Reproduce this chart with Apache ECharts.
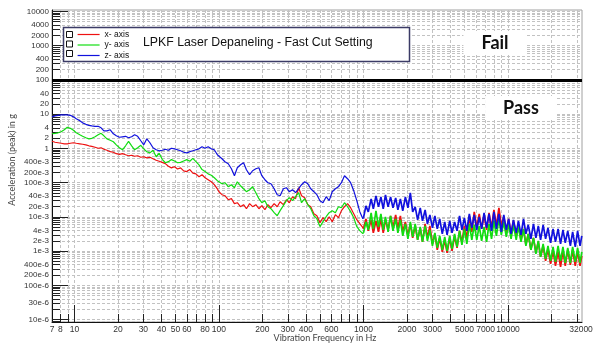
<!DOCTYPE html>
<html>
<head>
<meta charset="utf-8">
<script src="https://cdn.jsdelivr.net/npm/echarts@6/dist/echarts.min.js"></script>
<style>
  html, body { margin: 0; padding: 0; background: #fff; }
  #chart { width: 600px; height: 347px; }
</style>
</head>
<body>
<div id="chart"></div>
<script>
// Vibration spectrum of the depaneling process, acceleration (peak) per axis.
// Shared frequency grid in Hz.
const freqHz = [
  7, 7.35, 7.72, 8.1, 8.51, 8.93, 9.38, 9.85, 10.3, 10.9,
  11.4, 12.0, 12.6, 13.2, 13.9, 14.6, 15.3, 16.0, 16.8, 17.7,
  18.6, 19.5, 20.5, 21.5, 22.6, 23.7, 24.9, 26.1, 27.4, 28.8,
  30.2, 31.7, 33.3, 35.0, 36.8, 38.6, 40.5, 42.6, 44.7, 46.9,
  49.3, 51.7, 54.3, 57.0, 59.9, 62.9, 66.0, 69.3, 72.8, 76.4,
  80.2, 84.2, 88.5, 92.9, 97.5,
  100, 105, 110, 116, 122, 128, 134, 141, 148, 155,
  163, 171, 180, 189, 198, 208, 218, 229, 241, 253,
  265, 279, 293, 307, 323, 339, 356, 373, 392, 412,
  432, 454, 476, 500, 525, 552, 579, 608, 639, 671,
  704, 739, 776, 815, 856, 899, 943, 990,
  1000, 1040, 1080, 1130, 1170, 1220, 1270, 1320, 1370, 1420,
  1480, 1540, 1600, 1670, 1730, 1800, 1870, 1950, 2030, 2110,
  2190, 2280, 2370, 2470, 2560, 2670, 2770, 2880, 3000, 3120,
  3240, 3370, 3510, 3650, 3790, 3950, 4100, 4270, 4440, 4620,
  4800, 4990, 5190, 5400, 5620, 5840, 6080, 6320, 6570, 6830,
  7110, 7390, 7690, 7990, 8310, 8650, 8990, 9350, 9730, 10100,
  10500, 10900, 11400, 11800, 12300, 12800, 13300, 13800, 14400, 15000,
  15600, 16200, 16800, 17500, 18200, 18900, 19700, 20500, 21300, 22200,
  23100, 24000, 24900, 25900, 27000, 28000, 29200, 30300, 31500, 32400
];

// x- axis acceleration in g
const xAxisG = [
  1.61, 1.51, 1.46, 1.41, 1.36, 1.36, 1.41, 1.46, 1.41, 1.36,
  1.32, 1.27, 1.19, 1.15, 1.08, 1.01, 1.04, 0.94, 0.88, 0.80,
  0.77, 0.70, 0.67, 0.70, 0.65, 0.61, 0.63, 0.59, 0.61, 0.55,
  0.57, 0.53, 0.55, 0.50, 0.45, 0.42, 0.39, 0.36, 0.30, 0.27,
  0.29, 0.25, 0.27, 0.22, 0.21, 0.24, 0.19, 0.18, 0.149, 0.17,
  0.139, 0.122, 0.106, 0.087, 0.066,
  0.0543, 0.0444, 0.0415, 0.0317, 0.0340, 0.0243, 0.0259, 0.0198, 0.0227, 0.0173,
  0.0243, 0.0198, 0.0227, 0.0173, 0.0212, 0.0162, 0.0227, 0.0185, 0.0243, 0.0198,
  0.0277, 0.0227, 0.0317, 0.0259, 0.0388, 0.0340, 0.0710, 0.0415, 0.0363, 0.0227,
  0.0198, 0.0124, 0.0108, 0.00677, 0.00948, 0.00725, 0.0101, 0.00725, 0.0116, 0.00948,
  0.0152, 0.0198, 0.0243, 0.0185, 0.0124, 0.00829, 0.00634, 0.00484,
  0.00447, 0.00874, 0.00391, 0.00818, 0.00342, 0.00765, 0.00366, 0.00874, 0.00342, 0.00818,
  0.00418, 0.0107, 0.00478, 0.0114, 0.00447, 0.0107, 0.00366, 0.00715, 0.00280, 0.00625,
  0.00244, 0.00547, 0.00214, 0.00478, 0.00187, 0.00625, 0.00244, 0.00547, 0.00163, 0.00320,
  0.00109, 0.00244, 0.000954, 0.00214, 0.000892, 0.00244, 0.00102, 0.00280, 0.00125, 0.00391,
  0.00175, 0.00547, 0.00229, 0.0107, 0.00366, 0.0140, 0.00478, 0.0122, 0.00447, 0.0114,
  0.00418, 0.0131, 0.00478, 0.0160, 0.00547, 0.0183, 0.00547, 0.0100, 0.00366, 0.00874,
  0.00320, 0.00765, 0.00280, 0.00585, 0.00214, 0.00447, 0.00153, 0.00320, 0.00109, 0.00244,
  0.000892, 0.00187, 0.000682, 0.00143, 0.000522, 0.00117, 0.000427, 0.00102, 0.000373, 0.000954,
  0.000349, 0.00102, 0.000373, 0.00109, 0.000399, 0.00109, 0.000373, 0.00102, 0.000373, 0.000730
];

// y- axis acceleration in g
const yAxisG = [
  2.67, 2.75, 2.85, 3.05, 3.49, 4.12, 3.85, 3.37, 2.85, 2.49,
  2.25, 2.04, 1.90, 1.97, 2.18, 2.49, 2.75, 2.33, 1.90, 1.72,
  1.56, 1.27, 1.04, 0.91, 1.19, 1.61, 1.19, 0.91, 1.04, 1.23,
  0.97, 0.80, 0.74, 0.88, 0.57, 0.72, 0.48, 0.38, 0.41, 0.47,
  0.43, 0.38, 0.39, 0.43, 0.47, 0.42, 0.51, 0.41, 0.33, 0.24,
  0.21, 0.18, 0.164, 0.139, 0.114,
  0.1215, 0.0929, 0.0993, 0.0760, 0.0869, 0.0710, 0.106, 0.0812, 0.0664, 0.0543,
  0.0621, 0.0760, 0.0508, 0.0340, 0.0259, 0.0297, 0.0198, 0.0173, 0.01326, 0.0108,
  0.0152, 0.0212, 0.0297, 0.0363, 0.0297, 0.0388, 0.0508, 0.0259, 0.0340, 0.0227,
  0.0173, 0.0108, 0.00886, 0.00518, 0.00725, 0.0101, 0.01326, 0.0152, 0.01326, 0.0198,
  0.0185, 0.0259, 0.0198, 0.0142, 0.00948, 0.00518, 0.00396, 0.00324,
  0.00342, 0.00715, 0.00418, 0.0131, 0.00447, 0.0150, 0.00511, 0.0122, 0.00418, 0.0100,
  0.00366, 0.0107, 0.00391, 0.00874, 0.00342, 0.00818, 0.00280, 0.00625, 0.00229, 0.00715,
  0.00261, 0.00625, 0.00214, 0.00511, 0.00187, 0.00547, 0.00200, 0.00418, 0.00143, 0.00342,
  0.00125, 0.00280, 0.00109, 0.00261, 0.00102, 0.00280, 0.00117, 0.00320, 0.00133, 0.00391,
  0.00153, 0.00447, 0.00163, 0.00625, 0.00214, 0.00585, 0.00214, 0.00547, 0.00200, 0.00511,
  0.00187, 0.00625, 0.00229, 0.00765, 0.00280, 0.00874, 0.00299, 0.00715, 0.00261, 0.00625,
  0.00229, 0.00585, 0.00214, 0.00547, 0.00187, 0.00447, 0.00143, 0.00320, 0.00109, 0.00244,
  0.000834, 0.00200, 0.000682, 0.00163, 0.000597, 0.00143, 0.000522, 0.00133, 0.000488, 0.00143,
  0.000522, 0.00133, 0.000456, 0.00125, 0.000456, 0.00133, 0.000488, 0.00125, 0.000456, 0.000954
];

// z- axis acceleration in g
const zAxisG = [
  8.34, 8.92, 9.23, 9.54, 9.54, 9.54, 9.23, 8.34, 7.30, 6.38,
  5.57, 5.04, 4.71, 4.56, 4.41, 4.41, 3.99, 3.26, 3.26, 3.49,
  2.67, 2.33, 2.11, 2.18, 2.25, 2.04, 2.18, 2.49, 2.25, 1.67,
  1.27, 1.90, 1.46, 1.04, 0.91, 0.85, 0.88, 0.94, 0.88, 1.01,
  0.97, 0.91, 0.85, 0.77, 0.74, 0.80, 0.85, 0.91, 0.97, 1.11,
  1.01, 1.11, 0.97, 0.91, 0.65,
  0.608, 0.497, 0.407, 0.356, 0.254, 0.159, 0.272, 0.333, 0.380, 0.238,
  0.170, 0.222, 0.254, 0.272, 0.159, 0.1215, 0.0993, 0.0929, 0.0664, 0.0444,
  0.0415, 0.0664, 0.0710, 0.0543, 0.0621, 0.0508, 0.0664, 0.0869, 0.106, 0.0929,
  0.0664, 0.0543, 0.0444, 0.0297, 0.0259, 0.0388, 0.0297, 0.0543, 0.0664, 0.0760,
  0.0993, 0.159, 0.130, 0.0993, 0.0581, 0.0297, 0.0142, 0.00886,
  0.00935, 0.0209, 0.0140, 0.0335, 0.0171, 0.0410, 0.0196, 0.0383, 0.0171, 0.0438,
  0.0196, 0.0383, 0.0183, 0.0358, 0.0160, 0.0335, 0.0150, 0.0383, 0.0183, 0.0501,
  0.0140, 0.0196, 0.00818, 0.0183, 0.00765, 0.0160, 0.00625, 0.0114, 0.00478, 0.0107,
  0.00447, 0.00874, 0.00320, 0.00715, 0.00299, 0.00765, 0.00342, 0.00715, 0.00391, 0.0107,
  0.00418, 0.00935, 0.00391, 0.0122, 0.00478, 0.0114, 0.00418, 0.0100, 0.00447, 0.0131,
  0.00478, 0.0122, 0.00391, 0.0140, 0.00447, 0.0122, 0.00366, 0.0114, 0.00418, 0.00874,
  0.00320, 0.00818, 0.00342, 0.00765, 0.00299, 0.00874, 0.00320, 0.00585, 0.00229, 0.00625,
  0.00244, 0.00547, 0.00214, 0.00585, 0.00229, 0.00478, 0.00175, 0.00447, 0.00187, 0.00447,
  0.00163, 0.00418, 0.00175, 0.00391, 0.00143, 0.00366, 0.00133, 0.00391, 0.00143, 0.00280
];

const seriesNames = ['x- axis', 'y- axis', 'z- axis'];
const seriesColors = ['#ee1111', '#11dd11', '#1111dd'];

const xTickLabels = [7, 8, 10, 20, 30, 40, 50, 60, 80, 100, 200, 300, 400, 600,
  1000, 2000, 3000, 5000, 7000, 10000, 32000];

const yTickValues = [10000, 4000, 2000, 1000, 400, 200, 100, 40, 20, 10, 4, 2, 1,
  0.4, 0.2, 0.1, 0.04, 0.02, 0.01, 0.004, 0.002, 0.001,
  0.0004, 0.0002, 0.0001, 0.00003, 0.00001];
const yTickLabels = ['10000', '4000', '2000', '1000', '400', '200', '100', '40', '20', '10', '4', '2', '1',
  '400e-3', '200e-3', '100e-3', '40e-3', '20e-3', '10e-3', '4e-3', '2e-3', '1e-3',
  '400e-6', '200e-6', '100e-6', '30e-6', '10e-6'];

const passFailLimit = 100;   // g

const xRange = [7, 32500];
const yRange = [8.5e-6, 11000];

// 1..9 x 10^n steps inside a range, used for ticks and dashed grid lines
function decadeSteps(lo, hi) {
  const out = [];
  for (let e = -6; e <= 5; e++) {
    for (let k = 1; k <= 9; k++) {
      const v = +(k * Math.pow(10, e)).toPrecision(6);
      if (v >= lo && v <= hi) out.push(v);
    }
  }
  return out;
}
const isDecade = v => Math.abs(Math.log10(v) - Math.round(Math.log10(v))) < 1e-9;
const xGridTicks = decadeSteps(7.5, 31000);
const yGridTicks = decadeSteps(yRange[0], yRange[1]);
const xDecades = xGridTicks.filter(isDecade);
const yDecades = yGridTicks.filter(isDecade);

function yLabel(v) {
  let best = -1, bestDist = 1e9;
  yTickValues.forEach((t, i) => {
    const d = Math.abs(Math.log10(t) - Math.log10(v));
    if (d < bestDist) { bestDist = d; best = i; }
  });
  return bestDist < 1e-4 ? yTickLabels[best] : '';
}

const tickFont = 'Liberation Sans';
const nameFont = 'Lato';
const dashed = { show: true, lineStyle: { color: '#c2c2c2', width: 1, type: [3, 2] } };

// Above 1 kHz the spectrum is sampled densely; that part is drawn as its own
// line so the noise band can use a slightly heavier stroke.
const bandStart = freqHz.indexOf(1000);
const allValues = [xAxisG, yAxisG, zAxisG];

function lineSeries(i, dense) {
  const pts = freqHz.map((f, j) => [f, allValues[i][j]]);
  return {
    name: seriesNames[i],
    type: 'line',
    xAxisIndex: 0, yAxisIndex: 0,
    symbol: 'none', showSymbol: false,
    clip: true, z: 2 + i,
    color: seriesColors[i],
    lineStyle: { color: seriesColors[i], width: dense ? 1.7 : 1.2 },
    data: dense ? pts.slice(bandStart) : pts.slice(0, bandStart + 1)
  };
}

const series = [];
for (let i = 0; i < 3; i++) {
  series.push(lineSeries(i, false));
  series.push(lineSeries(i, true));
}
// Fail / pass limit at 100 g
series[series.length - 1].markLine = {
  silent: true, symbol: 'none', animation: false,
  label: { show: false },
  lineStyle: { color: '#000', width: 3, type: 'solid' },
  data: [{ yAxis: passFailLimit }]
};

const chart = echarts.init(document.getElementById('chart'), null, { renderer: 'canvas' });

const option = {
  animation: false,
  backgroundColor: '#fff',
  grid: {
    left: 52, right: 18, top: 10, bottom: 25,
    show: true, borderColor: '#a0a0a0', borderWidth: 1,
    containLabel: false, outerBoundsMode: 'none'
  },
  title: {
    text: 'LPKF Laser Depaneling - Fast Cut Setting',
    left: 143, top: 37, padding: 0, z: 20,
    textStyle: { fontSize: 12.3, fontWeight: 'normal', color: '#111', fontFamily: tickFont }
  },
  legend: {
    orient: 'vertical', left: 77, top: 30, padding: 0,
    itemWidth: 22, itemHeight: 8, itemGap: 1.5, itemTextGap: 6,
    selectedMode: false, z: 20,
    itemStyle: { opacity: 0 },
    lineStyle: { width: 1.2 },
    data: seriesNames,
    textStyle: { fontSize: 8.5, color: '#111', fontFamily: tickFont }
  },
  xAxis: [
    {
      type: 'log', logBase: 10, min: xRange[0], max: xRange[1], position: 'bottom',
      axisLine: { show: true, lineStyle: { color: '#111', width: 1 } },
      axisTick: { show: true, inside: true, length: 8, customValues: xGridTicks, lineStyle: { color: '#222' } },
      axisLabel: {
        show: true, customValues: xTickLabels, margin: 3,
        formatter: v => String(Math.round(v)),
        fontSize: 8.5, color: '#333', fontFamily: tickFont
      },
      splitLine: dashed,
      minorTick: { show: false }, minorSplitLine: { show: false },
      name: 'Vibration Frequency in Hz', nameLocation: 'middle', nameGap: 12, nameMoveOverlap: false,
      nameTextStyle: { fontSize: 9, color: '#444', fontFamily: nameFont, padding: [0, 0, 0, 16] }
    },
    {
      type: 'log', logBase: 10, min: xRange[0], max: xRange[1], position: 'bottom',
      axisLine: { show: false },
      axisTick: { show: true, inside: true, length: 17, customValues: xDecades, lineStyle: { color: '#222' } },
      axisLabel: { show: false },
      splitLine: { show: false }
    }
  ],
  yAxis: [
    {
      type: 'log', logBase: 10, min: yRange[0], max: yRange[1], position: 'left',
      axisLine: { show: true, lineStyle: { color: '#111', width: 1 } },
      axisTick: { show: true, inside: true, length: 8, customValues: yGridTicks, lineStyle: { color: '#222' } },
      axisLabel: {
        show: true, customValues: yTickValues, margin: 3,
        formatter: yLabel,
        fontSize: 8, color: '#333', fontFamily: tickFont
      },
      splitLine: dashed,
      minorTick: { show: false }, minorSplitLine: { show: false },
      name: 'Acceleration (peak) in g', nameLocation: 'middle', nameGap: 35, nameMoveOverlap: false,
      nameTextStyle: { fontSize: 9, color: '#444', fontFamily: nameFont, padding: [0, 0, 0, 12] }
    },
    {
      type: 'log', logBase: 10, min: yRange[0], max: yRange[1], position: 'left',
      axisLine: { show: false },
      axisTick: { show: true, inside: true, length: 16, customValues: yDecades, lineStyle: { color: '#222' } },
      axisLabel: { show: false },
      splitLine: { show: false }
    }
  ],
  graphic: [
    { type: 'rect', z: 10, shape: { x: 63.5, y: 27.5, width: 346, height: 34 },
      style: { fill: '#fff', stroke: '#3b3b66', lineWidth: 1.5 } },
    { type: 'rect', z: 21, shape: { x: 66.5, y: 31.5, width: 6, height: 6 }, style: { fill: '#fff', stroke: '#111', lineWidth: 1 } },
    { type: 'rect', z: 21, shape: { x: 66.5, y: 41, width: 6, height: 6 }, style: { fill: '#fff', stroke: '#111', lineWidth: 1 } },
    { type: 'rect', z: 21, shape: { x: 66.5, y: 50.5, width: 6, height: 6 }, style: { fill: '#fff', stroke: '#111', lineWidth: 1 } },
    { type: 'text', z: 15, x: 495, y: 43,
      style: { text: 'Fail', fontSize: 18, fontWeight: 'bold', fontFamily: nameFont, fill: '#111',
               align: 'center', verticalAlign: 'middle', backgroundColor: '#fff', padding: [3, 18] } },
    { type: 'text', z: 15, x: 521, y: 108,
      style: { text: 'Pass', fontSize: 18, fontWeight: 'bold', fontFamily: nameFont, fill: '#111',
               align: 'center', verticalAlign: 'middle', backgroundColor: '#fff', padding: [3, 18] } }
  ],
  series: series
};

chart.setOption(option);
</script>
</body>
</html>
